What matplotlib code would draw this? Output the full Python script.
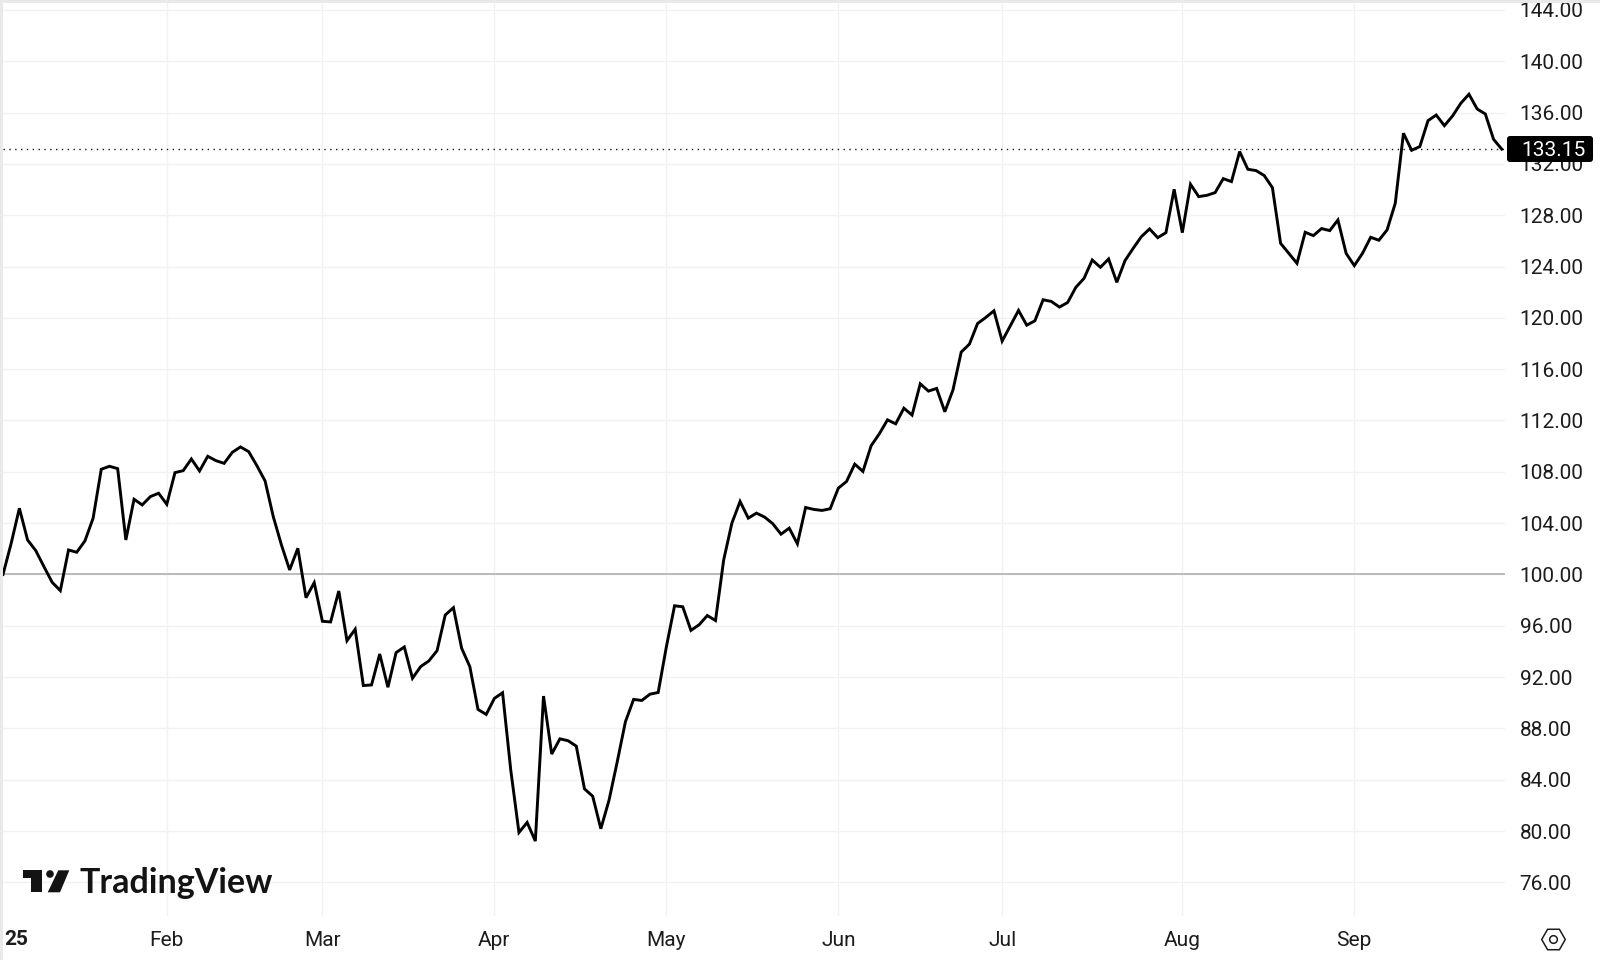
import matplotlib
matplotlib.use('Agg')
import matplotlib.pyplot as plt
from matplotlib.patches import Rectangle, Polygon, Circle, FancyBboxPatch

plt.rcParams['font.family'] = ['Roboto', 'DejaVu Sans']

# 收盘价(按交易日,从图上读出)
values = [
    100.00, 102.43, 105.16, 102.69, 101.86, 100.61, 99.39, 98.74, 101.91, 101.73,
    102.61, 104.38, 108.20, 108.43, 108.25, 102.69, 105.86, 105.42, 106.07, 106.33,
    105.47, 107.94, 108.09, 109.00, 108.07, 109.21, 108.87, 108.66, 109.52, 109.94,
    109.57, 108.48, 107.29, 104.51, 102.30, 100.35, 102.04, 98.19, 99.36, 96.35,
    96.30, 98.71, 94.84, 95.73, 91.34, 91.39, 93.80, 91.21, 93.91, 94.35,
    91.91, 92.82, 93.26, 94.06, 96.84, 97.41, 94.25, 92.82, 89.48, 89.09,
    90.34, 90.78, 84.75, 79.89, 80.67, 79.22, 90.52, 86.00, 87.19, 87.04,
    86.62, 83.29, 82.72, 80.18, 82.41, 85.40, 88.52, 90.26, 90.18, 90.67,
    90.80, 94.36, 97.56, 97.48, 95.64, 96.08, 96.80, 96.41, 101.14, 104.00,
    105.69, 104.39, 104.78, 104.47, 103.95, 103.14, 103.61, 102.39, 105.22, 105.07,
    104.99, 105.12, 106.73, 107.25, 108.60, 108.03, 110.03, 110.96, 112.05, 111.74,
    112.96, 112.42, 114.86, 114.29, 114.50, 112.68, 114.39, 117.33, 117.95, 119.56,
    120.03, 120.55, 118.19, 119.38, 120.58, 119.43, 119.77, 121.41, 121.28, 120.84,
    121.20, 122.38, 123.08, 124.51, 123.94, 124.59, 122.77, 124.46, 125.42, 126.33,
    126.93, 126.25, 126.64, 130.02, 126.64, 130.41, 129.45, 129.55, 129.76, 130.85,
    130.62, 132.96, 131.58, 131.48, 131.09, 130.15, 125.81, 125.03, 124.25, 126.67,
    126.41, 126.96, 126.80, 127.63, 125.03, 124.07, 125.03, 126.28, 126.05, 126.85,
    128.93, 134.39, 133.06, 133.35, 135.37, 135.81, 134.98, 135.74, 136.72, 137.43,
    136.28, 135.89, 133.92, 133.15,
]
month_labels = ['Feb', 'Mar', 'Apr', 'May', 'Jun', 'Jul', 'Aug', 'Sep']
month_pos = [20, 39, 60, 81, 102, 122, 144, 165]
price_ticks = [76, 80, 84, 88, 92, 96, 100, 104, 108, 112, 116, 120, 124, 128, 132, 136, 140, 144]
last_price = 133.15
base_price = 100

text_color = '#1c1c1c'
grid_color = '#f2f2f3'

fig = plt.figure(figsize=(16, 9.6), dpi=100, facecolor='white')

# 主图区域,像素 x 3-1505, y 3-916
ax = fig.add_axes([3 / 1600, 1 - 916 / 960, (1505 - 3) / 1600, (916 - 3) / 960])
ax.set_xlim(0, 183.4)
ax.set_ylim(73.38, 144.54)
for s in ax.spines.values():
    s.set_visible(False)

ax.set_yticks(price_ticks)
ax.set_yticklabels([f'{p:.2f}' for p in price_ticks])
ax.yaxis.tick_right()
ax.set_xticks(month_pos)
ax.set_xticklabels(month_labels)
ax.tick_params(axis='both', length=0, labelsize=15, labelcolor=text_color)
ax.tick_params(axis='y', pad=10.5)
ax.tick_params(axis='x', pad=11)
ax.grid(True, color=grid_color, linewidth=1.0)
ax.set_axisbelow(True)

ax.axhline(base_price, color='#b0b0b0', linewidth=1.2, zorder=2)
ax.axhline(last_price, color='#131722', linewidth=1.0, linestyle=(0, (1, 3.2)), zorder=2)
ax.plot(range(len(values)), values, color='black', linewidth=2.1, solid_joinstyle='miter', zorder=3)

# 覆盖层:边框、价格标签、logo、设置图标,用像素坐标
over = fig.add_axes([0, 0, 1, 1], facecolor='none')
over.set_xlim(0, 1600)
over.set_ylim(960, 0)
over.axis('off')

over.add_patch(Rectangle((0, 0), 3, 960, color='#e9e9e9', lw=0))
over.add_patch(Rectangle((0, 0), 1600, 3, color='#e9e9e9', lw=0))

# 当前价标签
over.add_patch(FancyBboxPatch((1509, 138), 82, 22, boxstyle='round,pad=2,rounding_size=3', fc='black', ec='none'))
over.text(1521, 150, f'{last_price:.2f}', color='white', fontsize=15, va='center', ha='left')

# 左下角的 2025 被截断,只剩 25
over.text(4, 939.5, '25', color=text_color, fontsize=15, fontweight='bold', va='center', ha='left')

# TradingView logo
over.add_patch(Polygon([(22.7, 870.3), (41.7, 870.3), (41.7, 892.3), (30.7, 892.3), (30.7, 878.3), (22.7, 878.3)], fc='#131313', ec='none'))
over.add_patch(Circle((50, 874), 3.8, fc='#131313', ec='none'))
over.add_patch(Polygon([(58.3, 870.3), (69.3, 870.3), (60, 892.3), (47.7, 892.3)], fc='#131313', ec='none'))
over.text(79.5, 893, 'TradingView', color='#131313', fontsize=24.5, fontweight='bold', family=['Lato', 'DejaVu Sans'], va='baseline', ha='left')

# 设置图标
over.plot([1553], [938.7], marker='H', markersize=17, mfc='none', mec=text_color, mew=1.1)
over.plot([1553], [938.7], marker='o', markersize=5.5, mfc='none', mec=text_color, mew=1.1)

fig.savefig('out.png', dpi=100)
